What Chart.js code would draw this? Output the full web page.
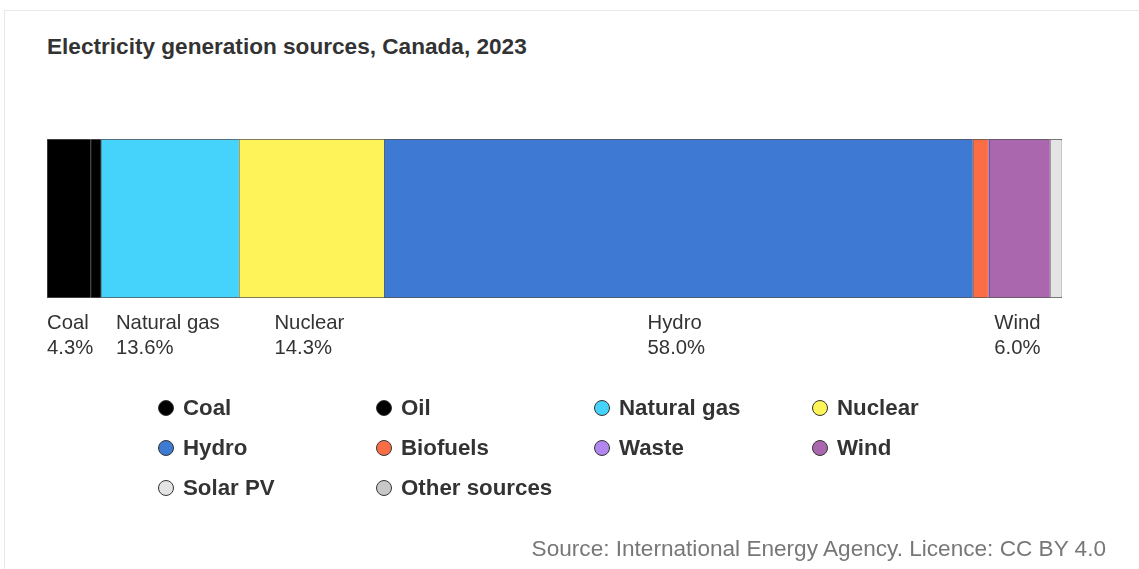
<!DOCTYPE html>
<html>
<head>
<meta charset="utf-8">
<script src="https://cdn.jsdelivr.net/npm/chart.js@4/dist/chart.umd.min.js"></script>
<style>
  body { margin: 0; background: #fff; font-family: "Liberation Sans", Arial, sans-serif; }
  #wrap { position: relative; width: 1139px; height: 569px; overflow: hidden; }
  #frame { position: absolute; left: 4px; top: 10px; width: 1200px; height: 600px; border: 1px solid #e8e8e8; box-sizing: border-box; }
  #title { position: absolute; left: 47px; top: 34px; font-size: 22.6px; font-weight: bold; color: #333; }
  #chart { position: absolute; left: 0; top: 0; }
  #legend { position: absolute; left: 158px; top: 388px; display: grid; grid-template-columns: repeat(4, 218px); grid-auto-rows: 40px; }
  .item { display: flex; align-items: center; font-size: 22.3px; font-weight: bold; color: #333; }
  .dot { width: 16px; height: 16px; border-radius: 50%; border: 1px solid #333; box-sizing: border-box; margin-right: 9px; }
  #source { position: absolute; right: 33px; top: 536px; font-size: 22.6px; color: #777; }
</style>
</head>
<body>
<div id="wrap">
  <div id="frame"></div>
  <div id="title">Electricity generation sources, Canada, 2023</div>
  <canvas id="chart" width="1139" height="569"></canvas>
  <div id="legend"></div>
  <div id="source">Source: International Energy Agency. Licence: CC BY 4.0</div>
</div>
<script>
// share of generation, %
const sources = ['Coal', 'Oil', 'Natural gas', 'Nuclear', 'Hydro', 'Biofuels', 'Waste', 'Wind', 'Solar PV', 'Other sources'];
const shares = [4.3, 1.0, 13.6, 14.3, 58.0, 1.5, 0.1, 6.0, 1.1, 0.1];
const colours = ['#000000', '#000000', '#45d3fc', '#fff35a', '#3e79d3', '#fb6e45', '#b286ef', '#ab67ae', '#e4e4e4', '#c8c8c8'];
const minLabelShare = 3;

// segment labels under the bar, centred on each segment
const segmentLabels = {
  id: 'segmentLabels',
  afterDatasetsDraw(chart) {
    const ctx = chart.ctx;
    const bottom = chart.chartArea.bottom;
    ctx.save();
    ctx.font = '20.3px "Liberation Sans", Arial, sans-serif';
    ctx.fillStyle = '#333';
    ctx.textAlign = 'left';
    ctx.textBaseline = 'middle';
    chart.data.datasets.forEach((ds, i) => {
      const v = ds.data[0];
      if (v < minLabelShare) return;
      const bar = chart.getDatasetMeta(i).data[0];
      const mid = (bar.x + bar.base) / 2;
      const pct = v.toFixed(1) + '%';
      const w = Math.max(ctx.measureText(ds.label).width, ctx.measureText(pct).width);
      const left = Math.max(chart.chartArea.left, mid - w / 2 - 2);
      ctx.fillText(ds.label, left, bottom + 25);
      ctx.fillText(pct, left, bottom + 50);
    });
    ctx.restore();
  }
};

const last = sources.length - 1;
new Chart(document.getElementById('chart'), {
  type: 'bar',
  data: {
    labels: ['2023'],
    datasets: sources.map((s, i) => ({
      label: s,
      data: [shares[i]],
      backgroundColor: colours[i],
      borderColor: '#555',
      borderWidth: { top: 1, bottom: 1, left: 1, right: i === last ? 1 : 0 },
      borderSkipped: false,
      barPercentage: 1,
      categoryPercentage: 1
    }))
  },
  options: {
    indexAxis: 'y',
    responsive: false,
    animation: false,
    layout: { padding: { left: 47, top: 139, right: 77, bottom: 271 } },
    scales: {
      x: { stacked: true, min: 0, max: 100, display: false },
      y: { stacked: true, display: false }
    },
    plugins: { legend: { display: false }, tooltip: { enabled: false } }
  },
  plugins: [segmentLabels]
});

// legend grid
const legend = document.getElementById('legend');
sources.forEach((s, i) => {
  const item = document.createElement('div');
  item.className = 'item';
  const dot = document.createElement('span');
  dot.className = 'dot';
  dot.style.background = colours[i];
  item.appendChild(dot);
  item.appendChild(document.createTextNode(s));
  legend.appendChild(item);
});
</script>
</body>
</html>
